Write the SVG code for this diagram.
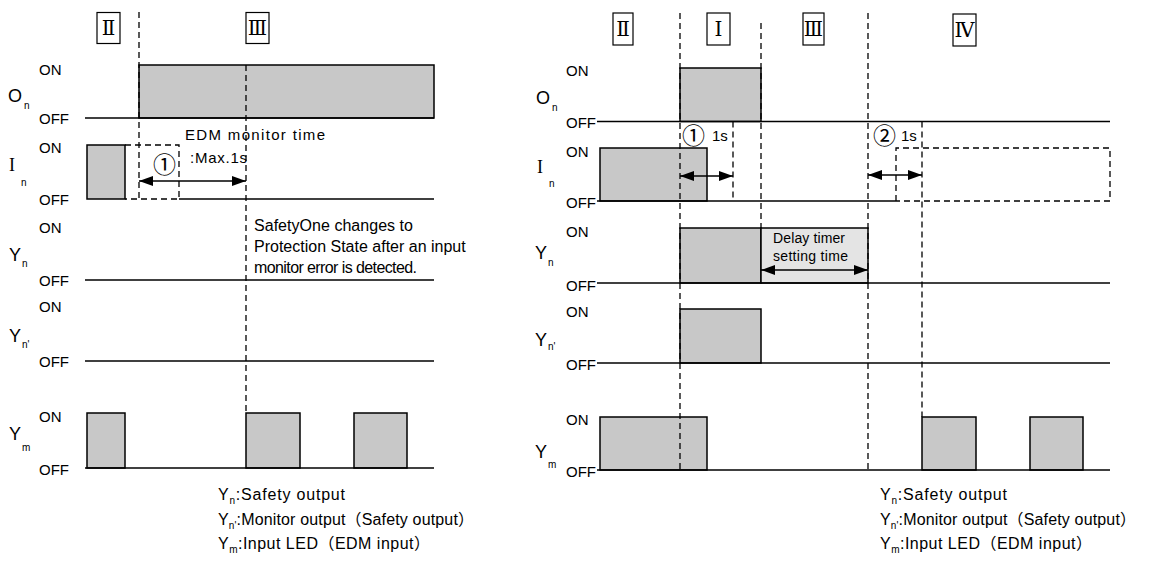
<svg xmlns="http://www.w3.org/2000/svg" width="1151" height="565" viewBox="0 0 1151 565">
<style>
.t{font-family:"Liberation Sans",Arial,sans-serif;font-size:15px;fill:#000}
.sig{font-family:"Liberation Sans",Arial,sans-serif;font-size:18px;fill:#000}
.sigI{font-family:"Liberation Serif","Times New Roman",serif;font-size:18px;fill:#000}
.sub{font-family:"Liberation Sans",Arial,sans-serif;font-size:10px;fill:#000}
.ann{font-family:"Liberation Sans","Noto Sans CJK JP",sans-serif;font-size:16px;fill:#000}
.small{font-family:"Liberation Sans","Noto Sans CJK JP",sans-serif;font-size:14px;fill:#000}
.cn{font-family:"Noto Sans CJK JP","DejaVu Sans",sans-serif;font-size:23px;fill:#000}
.rn{font-family:"DejaVu Serif","Noto Sans CJK JP",serif;font-size:20px;fill:#000;text-anchor:middle}
.ln{stroke:#000;stroke-width:1.5;fill:none}
.ds{stroke:#000;stroke-width:1.3;stroke-dasharray:6 4;fill:none}
.hi{fill:#c8c8c8;stroke:#000;stroke-width:1.5}
.lt{fill:#e4e4e4;stroke:#000;stroke-width:1.5}
.bx{fill:#fff;stroke:#000;stroke-width:1.2}
.ar{stroke:#000;stroke-width:1.5;fill:none;marker-start:url(#ah);marker-end:url(#ah)}
</style>
<defs>
<marker id="ah" viewBox="0 0 14 10" refX="14" refY="5" markerWidth="14" markerHeight="10" markerUnits="userSpaceOnUse" orient="auto-start-reverse"><path d="M0,0 L14,5 L0,10 z" fill="#000"/></marker>
</defs>
<rect width="1151" height="565" fill="#fff"/>

<!-- LEFT DIAGRAM -->
<g id="left-phases">
<g id="L-phase-II"><rect class="bx" x="97" y="12.5" width="23" height="31"/><text class="rn" x="108.5" y="35">Ⅱ</text></g>
<g id="L-phase-III"><rect class="bx" x="246" y="12.5" width="23" height="31"/><text class="rn" x="257.5" y="35">Ⅲ</text></g>
</g>

<g id="L-On">
<text class="t" x="39" y="75">ON</text><text class="t" x="39" y="124">OFF</text>
<text class="sig" x="8" y="102">O</text><text class="sub" x="24" y="109">n</text>
<rect class="hi" x="139" y="65" width="295" height="53"/>
<line class="ln" x1="85" y1="118" x2="434" y2="118"/>
</g>

<g id="L-In">
<text class="t" x="39" y="153">ON</text><text class="t" x="39" y="205">OFF</text>
<text class="sigI" x="9" y="171">I</text><text class="sub" x="21" y="186">n</text>
<rect class="hi" x="87" y="145" width="38" height="54"/>
<line class="ln" x1="179" y1="199" x2="434" y2="199"/>
<path class="ds" d="M125,145 H179 V199 H125"/>
</g>

<g id="L-Yn">
<text class="t" x="39" y="233">ON</text><text class="t" x="39" y="286">OFF</text>
<text class="sig" x="9" y="261">Y</text><text class="sub" x="22" y="267">n</text>
<line class="ln" x1="85" y1="280" x2="434" y2="280"/>
</g>

<g id="L-Ynp">
<text class="t" x="39" y="312">ON</text><text class="t" x="39" y="367">OFF</text>
<text class="sig" x="9" y="342">Y</text><text class="sub" x="22" y="348">n'</text>
<line class="ln" x1="85" y1="361" x2="434" y2="361"/>
</g>

<g id="L-Ym">
<text class="t" x="39" y="422">ON</text><text class="t" x="39" y="475">OFF</text>
<text class="sig" x="9" y="440">Y</text><text class="sub" x="22" y="451">m</text>
<rect class="hi" x="87" y="413" width="38" height="55"/>
<rect class="hi" x="246" y="413" width="54" height="55"/>
<rect class="hi" x="354" y="413" width="53" height="55"/>
<line class="ln" x1="85" y1="468" x2="434" y2="468"/>
</g>

<g id="L-connectors">
<line class="ds" x1="139" y1="12" x2="139" y2="199"/>
<line class="ds" x1="246" y1="65" x2="246" y2="413"/>
<line class="ar" x1="139" y1="181" x2="246" y2="181"/>
</g>

<g id="L-notes">
<text class="t" x="185" y="140" font-size="16" textLength="140">EDM monitor time</text>
<text class="cn" x="153" y="173">①</text>
<text class="t" x="190" y="163" font-size="16" textLength="57">:Max.1s</text>
<text class="ann" x="254" y="231" textLength="159">SafetyOne changes to</text>
<text class="ann" x="254" y="252">Protection State after an input</text>
<text class="ann" x="254" y="273" textLength="163">monitor error is detected.</text>
</g>

<g id="L-legend">
<text class="ann" x="218" y="500" textLength="127">Y<tspan font-size="10" dy="4">n</tspan><tspan dy="-4">:Safety output</tspan></text>
<text class="ann" x="218" y="525" textLength="256">Y<tspan font-size="10" dy="4">n'</tspan><tspan dy="-4">:Monitor output（Safety output）</tspan></text>
<text class="ann" x="218" y="549" textLength="212">Y<tspan font-size="10" dy="4">m</tspan><tspan dy="-4">:Input LED（EDM input）</tspan></text>
</g>

<!-- RIGHT DIAGRAM -->
<g id="right-phases">
<g id="R-phase-II"><rect class="bx" x="613" y="13" width="20" height="32"/><text class="rn" x="623" y="36">Ⅱ</text></g>
<g id="R-phase-I"><rect class="bx" x="707" y="13" width="23" height="32"/><text class="rn" x="718.5" y="36">Ⅰ</text></g>
<g id="R-phase-III"><rect class="bx" x="803" y="13" width="21" height="32"/><text class="rn" x="813.5" y="36">Ⅲ</text></g>
<g id="R-phase-IV"><rect class="bx" x="953" y="14" width="23" height="32"/><text class="rn" x="964.5" y="37">Ⅳ</text></g>
</g>

<g id="R-On">
<text class="t" x="566" y="76">ON</text><text class="t" x="566" y="128">OFF</text>
<text class="sig" x="536" y="104">O</text><text class="sub" x="552" y="111">n</text>
<rect class="hi" x="680" y="68" width="81" height="53.5"/>
<line class="ln" x1="597" y1="121.5" x2="1110" y2="121.5"/>
</g>

<g id="R-In">
<text class="t" x="566" y="157">ON</text><text class="t" x="566" y="208">OFF</text>
<text class="sigI" x="537" y="173">I</text><text class="sub" x="549" y="187">n</text>
<rect class="hi" x="600" y="148" width="107" height="53"/>
<line class="ln" x1="597" y1="201" x2="896" y2="201"/>
<path class="ds" d="M896,201 V148 H1110 V201 H896"/>
</g>

<g id="R-Yn">
<text class="t" x="566" y="237">ON</text><text class="t" x="566" y="291">OFF</text>
<text class="sig" x="535" y="259">Y</text><text class="sub" x="548" y="266">n</text>
<rect class="hi" x="680" y="228" width="81" height="55"/>
<rect class="lt" x="761" y="228" width="107" height="55"/>
<line class="ln" x1="597" y1="283" x2="1110" y2="283"/>
<text class="small" x="773" y="243" textLength="72">Delay timer</text>
<text class="small" x="773" y="261" textLength="75">setting time</text>
</g>

<g id="R-Ynp">
<text class="t" x="566" y="317">ON</text><text class="t" x="566" y="370">OFF</text>
<text class="sig" x="535" y="346">Y</text><text class="sub" x="548" y="350">n'</text>
<rect class="hi" x="680" y="309" width="81" height="54"/>
<line class="ln" x1="597" y1="363" x2="1110" y2="363"/>
</g>

<g id="R-Ym">
<text class="t" x="566" y="425">ON</text><text class="t" x="566" y="477">OFF</text>
<text class="sig" x="535" y="458">Y</text><text class="sub" x="548" y="468">m</text>
<rect class="hi" x="600" y="417" width="107" height="53"/>
<rect class="hi" x="922" y="417" width="54" height="53"/>
<rect class="hi" x="1030" y="417" width="53" height="53"/>
<line class="ln" x1="597" y1="470" x2="1110" y2="470"/>
</g>

<g id="R-connectors">
<line class="ds" x1="680" y1="13" x2="680" y2="470"/>
<line class="ds" x1="761" y1="23" x2="761" y2="228"/>
<line class="ds" x1="733" y1="121.5" x2="733" y2="201"/>
<line class="ds" x1="868" y1="13" x2="868" y2="470"/>
<line class="ds" x1="922" y1="121.5" x2="922" y2="417"/>
<line class="ar" x1="680" y1="176" x2="733" y2="176"/>
<line class="ar" x1="868" y1="175" x2="922" y2="175"/>
<line class="ar" x1="761" y1="270" x2="868" y2="270"/>
</g>

<g id="R-notes">
<text class="cn" x="682" y="144">①</text>
<text class="t" x="712" y="141" font-size="16">1s</text>
<text class="cn" x="873" y="144">②</text>
<text class="t" x="901" y="141" font-size="16">1s</text>
</g>

<g id="R-legend">
<text class="ann" x="880" y="500" textLength="127">Y<tspan font-size="10" dy="4">n</tspan><tspan dy="-4">:Safety output</tspan></text>
<text class="ann" x="880" y="525" textLength="256">Y<tspan font-size="10" dy="4">n'</tspan><tspan dy="-4">:Monitor output（Safety output）</tspan></text>
<text class="ann" x="880" y="549" textLength="212">Y<tspan font-size="10" dy="4">m</tspan><tspan dy="-4">:Input LED（EDM input）</tspan></text>
</g>
</svg>
